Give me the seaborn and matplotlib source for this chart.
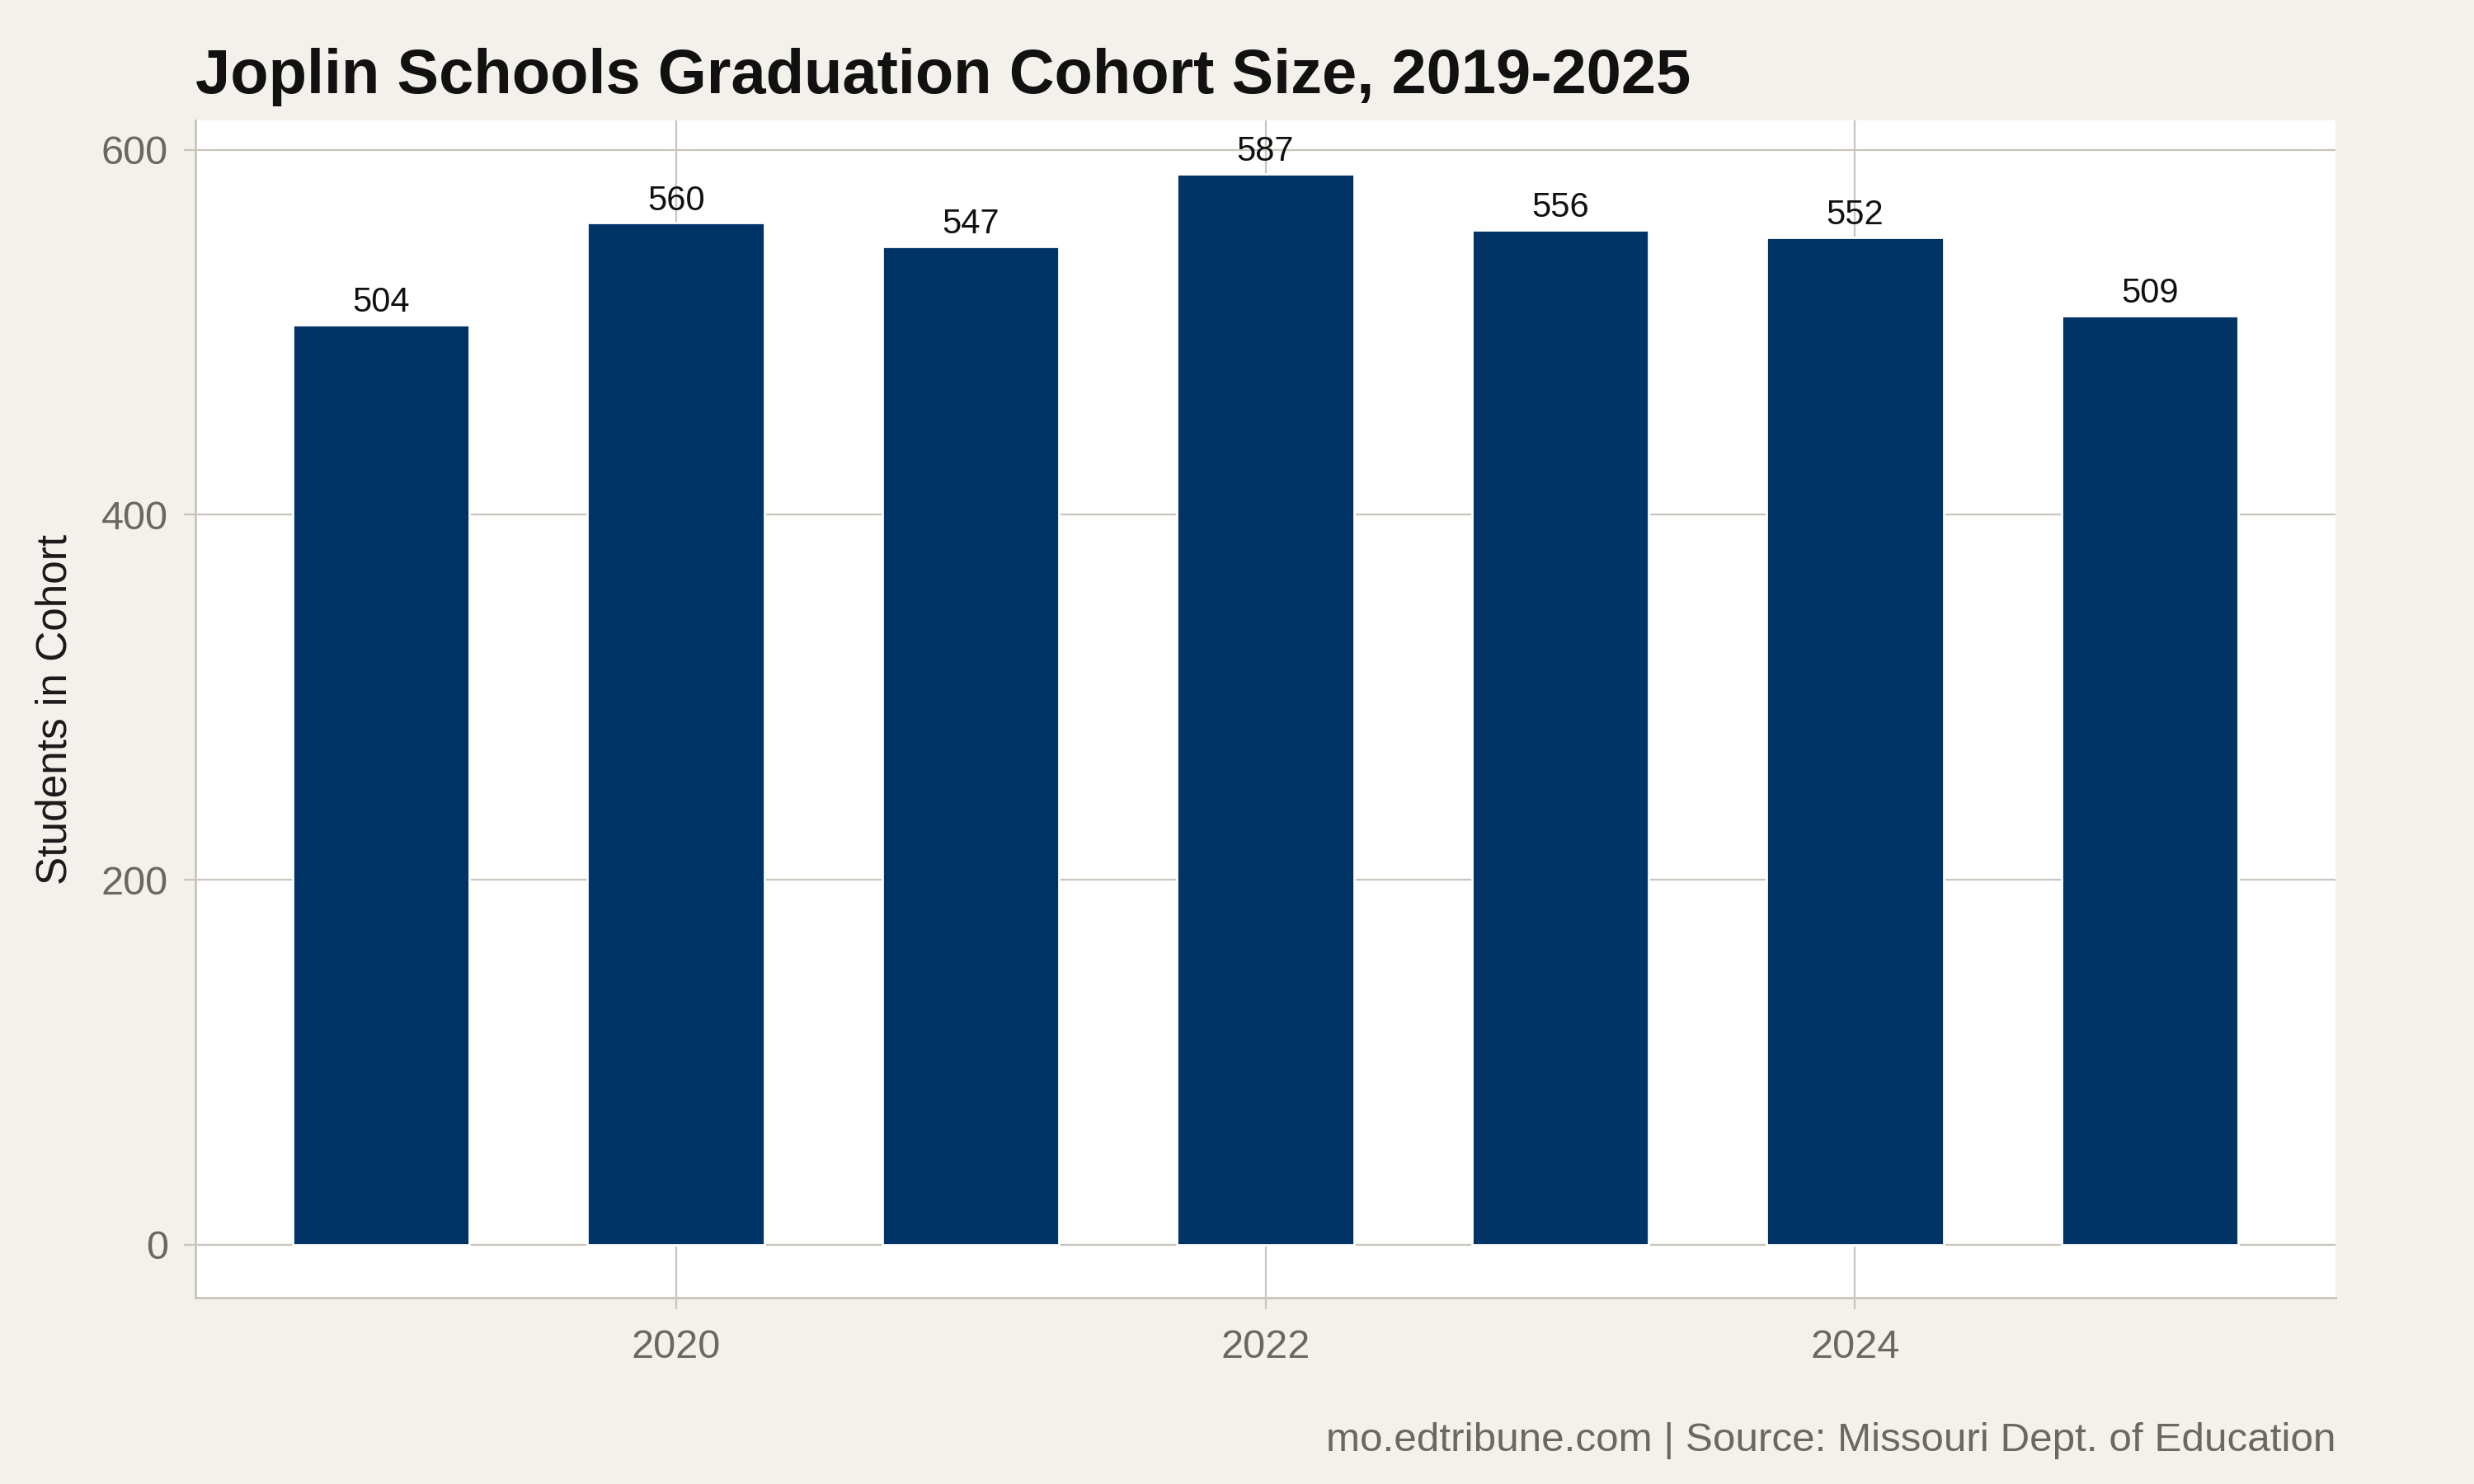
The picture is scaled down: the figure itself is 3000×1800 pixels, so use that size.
import matplotlib
matplotlib.use("Agg")
import matplotlib.pyplot as plt
import seaborn as sns
import pandas as pd

years = [2019, 2020, 2021, 2022, 2023, 2024, 2025]
cohort = [504, 560, 547, 587, 556, 552, 509]
x_ticks = [2020, 2022, 2024]
y_ticks = [0, 200, 400, 600]

title = "Joplin Schools Graduation Cohort Size, 2019-2025"
ylabel = "Students in Cohort"
caption = "mo.edtribune.com | Source: Missouri Dept. of Education"

BG = "#F4F1EC"
GRID = "#C9C5BC"
TICKC = "#6B6863"
BAR = "#003366"

sns.set_theme(style="white")
plt.rcParams["font.family"] = ["Liberation Sans", "DejaVu Sans"]

df = pd.DataFrame({"year": years, "cohort": cohort})

fig = plt.figure(figsize=(15, 9), dpi=200, facecolor=BG)
ax = fig.add_axes([0.079, 0.1253, 0.944 - 0.079, 0.919 - 0.1253])
ax.set_facecolor("white")

sns.barplot(data=df, x="year", y="cohort", native_scale=True, width=0.6,
            color=BAR, saturation=1, ax=ax, zorder=3, errorbar=None)

span = max(cohort) - 0
ax.set_ylim(-0.05 * span, max(cohort) + 0.05 * span)
xmin, xmax = min(years) - 0.3, max(years) + 0.3
xr = xmax - xmin
ax.set_xlim(xmin - 0.05 * xr, xmax + 0.05 * xr)

ax.set_xticks(x_ticks)
ax.set_xticklabels([str(t) for t in x_ticks])
ax.set_yticks(y_ticks)
ax.set_yticklabels([str(t) for t in y_ticks])

ax.grid(True, color=GRID, linewidth=0.8, zorder=0)
ax.set_axisbelow(True)
for s in ["top", "right"]:
    ax.spines[s].set_visible(False)
for s in ["left", "bottom"]:
    ax.spines[s].set_color(GRID)
    ax.spines[s].set_linewidth(1.0)

ax.tick_params(axis="both", which="major", length=5, width=0.8, color=GRID,
               labelcolor=TICKC, labelsize=17.5, pad=7)
ax.tick_params(axis="x", pad=8.5)
ax.tick_params(axis="y", left=True)
ax.tick_params(axis="x", bottom=True)

ax.set_xlabel("")
ax.set_ylabel(ylabel, fontsize=18.5, color="#1a1a1a", labelpad=11)

for c in ax.containers:
    ax.bar_label(c, labels=[str(v) for v in cohort], padding=2.5, fontsize=15, color="#111111")

fig.text(0.079, 0.937, title, fontsize=27.3, fontweight="bold", ha="left",
         va="baseline", color="#111111")
fig.text(0.944, 0.022, caption, fontsize=17.8, ha="right", va="baseline", color=TICKC)

fig.savefig("out.png", dpi=200, facecolor=BG)
